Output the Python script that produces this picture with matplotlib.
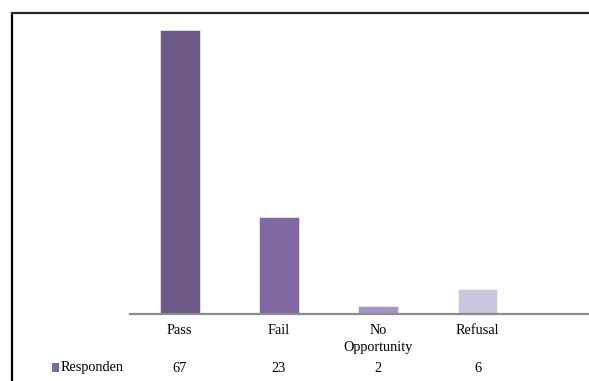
import numpy as np
import matplotlib
matplotlib.use('Agg')
import matplotlib.pyplot as plt
from matplotlib.patches import Rectangle
from matplotlib.lines import Line2D
from matplotlib.transforms import blended_transform_factory

categories = ['Pass', 'Fail', 'No\nOpportunity', 'Refusal']
respondents = [67, 23, 2, 6]
series_name = 'Responden'
bar_colors = ['#6e5886', '#8268a0', '#a594c1', '#cbc4dd']

W, H = 589, 381
plt.rcParams['font.family'] = ['Liberation Serif', 'DejaVu Serif']
fs = 10.3

fig = plt.figure(figsize=(W / 100, H / 100), dpi=100)

# plot area: baseline at y=314px, left edge at x=130px, runs to right edge
left, right = 130 / W, 1.0
bottom, top = (H - 314) / H, (H - 12) / H
ax = fig.add_axes([left, bottom, right - left, top - bottom])

x = np.arange(len(categories))
ax.bar(x, respondents, width=0.40, color=bar_colors, edgecolor='white', linewidth=0.4)

ax.set_xlim(-0.5, (W - 130) / 99.3 - 0.5)
ax.set_ylim(0, 302 / (284 / 67))

for s in ['top', 'right', 'left']:
    ax.spines[s].set_visible(False)
ax.spines['bottom'].set_color('#8c8c8c')
ax.spines['bottom'].set_linewidth(1.6)
ax.set_yticks([])
ax.set_xticks(x)
ax.set_xticklabels(categories, fontsize=fs, linespacing=1.42)
ax.tick_params(axis='x', length=0, pad=7)

# data table row under the chart
tr = blended_transform_factory(ax.transData, fig.transFigure)
row_y = (H - 368) / H
for xi, v in zip(x, respondents):
    ax.text(xi, row_y, str(v), transform=tr, ha='center', va='center', fontsize=fs)
fig.text(61 / W, row_y, series_name, ha='left', va='center', fontsize=fs)
fig.patches.append(Rectangle((52 / W, (H - 372) / H), 7 / W, 9 / H,
                             transform=fig.transFigure, facecolor='#8268a0',
                             edgecolor='none'))

# outer frame (clipped at right and bottom)
fig.add_artist(Line2D([11.5 / W, 11.5 / W], [0, (H - 12) / H], color='black',
                      linewidth=1.6, solid_capstyle='butt', transform=fig.transFigure))
fig.add_artist(Line2D([11 / W, 1.0], [(H - 12.5) / H, (H - 12.5) / H], color='#222222',
                      linewidth=1.6, solid_capstyle='butt', transform=fig.transFigure))

fig.savefig('out.png', dpi=100)
